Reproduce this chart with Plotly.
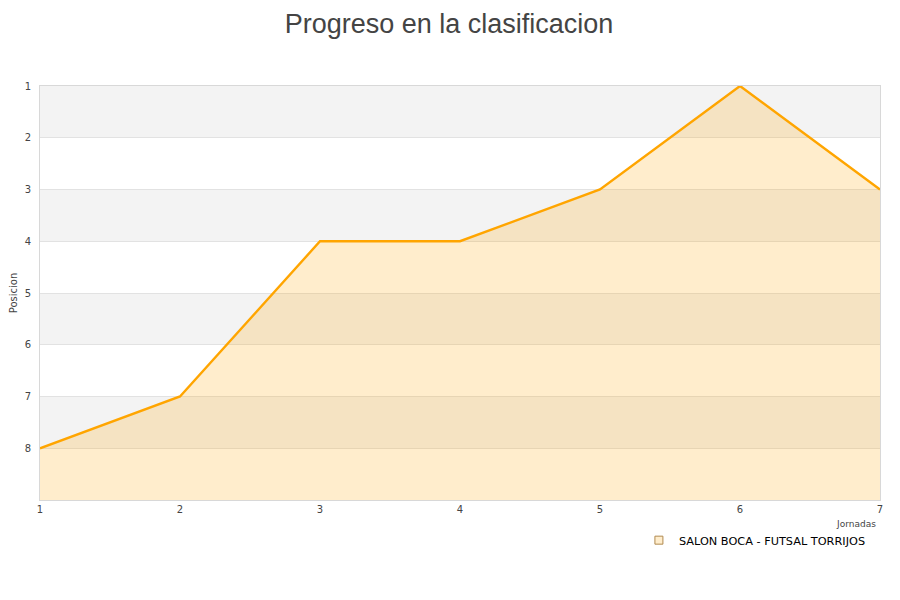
import plotly.graph_objects as go

jornadas = [1, 2, 3, 4, 5, 6, 7]
posiciones = [8, 7, 4, 4, 3, 1, 3]
equipo = "SALON BOCA - FUTSAL TORRIJOS"
y_ticks = [1, 2, 3, 4, 5, 6, 7, 8]
bands = [(1, 2), (3, 4), (5, 6), (7, 8)]

fig = go.Figure()

# baseline for the fill
fig.add_trace(go.Scatter(x=jornadas, y=[9] * len(jornadas), mode="lines",
                         line=dict(width=0), showlegend=False, hoverinfo="skip"))
fig.add_trace(go.Scatter(x=jornadas, y=posiciones, mode="lines",
                         line=dict(color="#ffa500", width=2.4),
                         fill="tonexty", fillcolor="rgba(255,165,0,0.2)",
                         showlegend=False, name=equipo))
# legend proxy
fig.add_trace(go.Scatter(x=[None], y=[None], mode="markers", name=equipo,
                         marker=dict(symbol="square", size=8, color="#ffedcc",
                                     line=dict(color="#b08a50", width=1))))

shapes = []
for a, b in bands:
    shapes.append(dict(type="rect", xref="paper", yref="y", x0=0, x1=1, y0=a, y1=b,
                       fillcolor="#f3f3f3", line=dict(width=0), layer="below"))

fig.update_layout(
    width=900, height=600,
    paper_bgcolor="white", plot_bgcolor="white",
    margin=dict(l=32, r=28, t=78, b=108, autoexpand=False),
    title=dict(text="Progreso en la clasificacion", x=0.49, xanchor="center",
               y=0.99, yanchor="top", pad=dict(t=0, b=0),
               font=dict(family="Liberation Sans", size=27, color="#444")),
    font=dict(family="DejaVu Sans", size=11, color="#444"),
    shapes=shapes,
    xaxis=dict(range=[1, 7], tickvals=jornadas, showgrid=False, zeroline=False,
               showline=True, linecolor="#d8d8d8", linewidth=1, mirror=True,
               ticks="", automargin=False, tickfont=dict(size=10, color="#444")),
    yaxis=dict(range=[9, 1], tickvals=y_ticks, showgrid=True, gridcolor="#e2e2e2",
               zeroline=False, showline=True, linecolor="#d8d8d8", linewidth=1,
               mirror=True, ticks="", ticklabelstandoff=6, automargin=False,
               tickfont=dict(size=10, color="#444"),
               title=dict(text="Posicion", font=dict(size=10, color="#444"), standoff=8)),
    annotations=[dict(text="Jornadas", xref="paper", yref="paper", x=0.998, y=-0.058,
                      xanchor="right", yanchor="middle", showarrow=False,
                      font=dict(size=9, color="#444"))],
    legend=dict(orientation="h", x=0.713, xanchor="left", y=-0.062, yanchor="top",
                bgcolor="rgba(255,255,255,0)", font=dict(size=11.3, color="#000"),
                itemwidth=30),
)

fig.write_html("out.html")
